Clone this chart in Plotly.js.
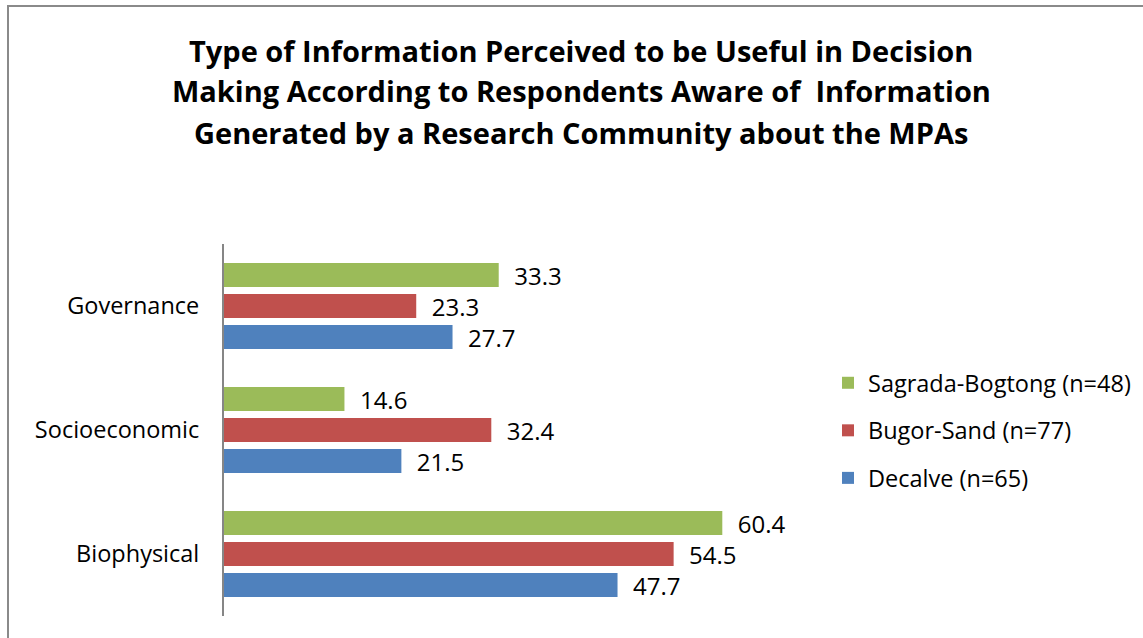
<!DOCTYPE html>
<html><head><meta charset="utf-8">
<script src="https://cdn.plot.ly/plotly-3.0.1.min.js"></script>
<style>html,body{margin:0;padding:0;background:#fff;}#chart{width:1143px;height:638px;}</style>
</head><body><div id="chart"></div>
<script>
const categories = ['Biophysical', 'Socioeconomic', 'Governance'];
const seriesNames = ['Decalve (n=65)', 'Bugor-Sand (n=77)', 'Sagrada-Bogtong (n=48)'];
const decalve = [47.7, 21.5, 27.7];
const bugorSand = [54.5, 32.4, 23.3];
const sagradaBogtong = [60.4, 14.6, 33.3];
const titleLines = ['Type of Information Perceived to be Useful in Decision',
  'Making According to Respondents Aware of  Information',
  'Generated by a Research Community about the MPAs'];
const colors = ['#4F81BD', '#C0504D', '#9BBB59'];
const seriesValues = [decalve, bugorSand, sagradaBogtong];

const FONT = '"Open Sans", sans-serif';
const FS = 23.5;
const W = 1143, H = 638, L = 224, T = 244, B = 22, PW = 600;
const R = W - L - PW;
const PH = H - T - B;

const traces = seriesValues.map((vals, i) => ({
  type: 'bar', orientation: 'h', name: seriesNames[i], legendgroup: 'g' + i,
  legendrank: 1000 - i,
  y: categories, x: vals,
  marker: {color: colors[i]},
  text: vals.map(v => '  ' + v.toFixed(1)),
  textposition: 'outside', cliponaxis: false, constraintext: 'none',
  textfont: {family: FONT, size: 24, color: '#000'},
  hoverinfo: 'x+name'
}));

const px2x = px => (px - L) / PW;
const py2y = py => (H - B - py) / PH;

const annotations = titleLines.map((t, i) => ({
  text: '<b>' + t + '</b>', xref: 'paper', yref: 'paper',
  x: px2x(581), y: py2y(50 + i * 41), xanchor: 'center', yanchor: 'middle',
  showarrow: false, font: {family: FONT, size: 29, color: '#000'}
}));

const layout = {
  width: W, height: H,
  margin: {l: L, r: R, t: T, b: B, pad: 0, autoexpand: false},
  paper_bgcolor: '#fff', plot_bgcolor: '#fff',
  barmode: 'group', bargap: 0.25, bargroupgap: 0.23,
  showlegend: true,
  legend: {x: px2x(828), y: py2y(361), xanchor: 'left', yanchor: 'top',
    traceorder: 'grouped', font: {family: FONT, size: FS, color: '#000'},
    itemsizing: 'constant', tracegroupgap: 14, itemwidth: 30},
  xaxis: {range: [0, PW / 8.25], visible: false, showgrid: false, zeroline: false, fixedrange: true},
  yaxis: {range: [-0.5, 2.5], showline: true, linecolor: '#868686', linewidth: 2,
    ticks: '', ticklabelstandoff: 18, showgrid: false, zeroline: false,
    tickfont: {family: FONT, size: FS, color: '#000'}},
  annotations: annotations,
  shapes: [{type: 'rect', xref: 'paper', yref: 'paper',
    x0: px2x(8), x1: px2x(1160), y0: py2y(660), y1: py2y(6),
    line: {color: '#8A8A8A', width: 2}, fillcolor: 'rgba(0,0,0,0)', layer: 'below'}]
};

Plotly.newPlot('chart', traces, layout, {displayModeBar: false, staticPlot: true});
</script></body></html>
